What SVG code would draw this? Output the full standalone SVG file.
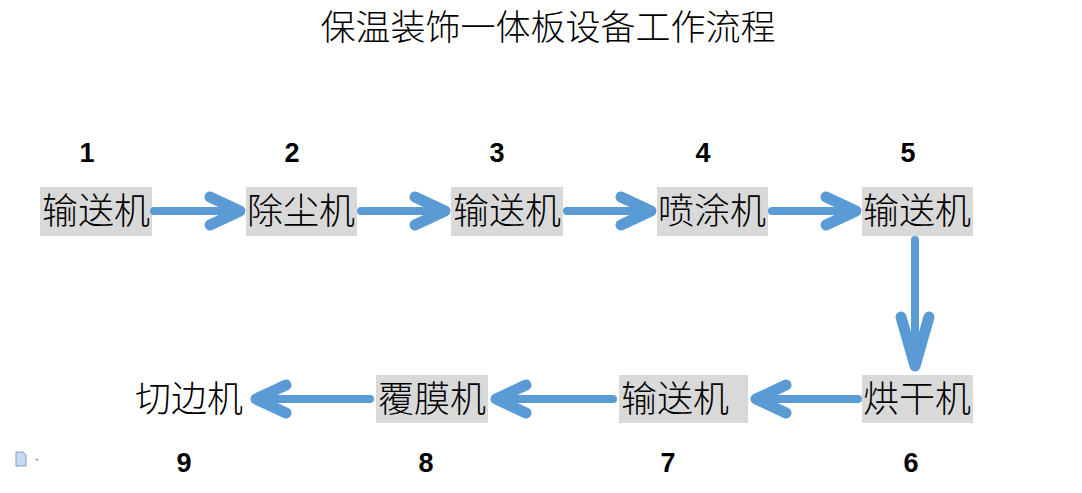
<svg xmlns="http://www.w3.org/2000/svg" width="1082" height="493" viewBox="0 0 1082 493">
<style>
.box{fill:#d9d9d9}
.lbl{font-family:"Noto Sans CJK SC",sans-serif;font-size:36px;fill:#000;text-anchor:middle;font-weight:300}
.num{font-family:"Liberation Sans",Arial,sans-serif;font-size:27px;font-weight:bold;text-anchor:middle;fill:#000}
.arr{fill:none;stroke:#5b9bd5;stroke-width:8;stroke-linecap:round;stroke-linejoin:round}
.hd{fill:none;stroke:#5b9bd5;stroke-width:11;stroke-linecap:round;stroke-linejoin:round}
</style>
<rect width="1082" height="493" fill="#fff"/>
<text x="548" y="40" style="font-family:'Noto Sans CJK SC',sans-serif;font-size:35px;font-weight:300;text-anchor:middle">保温装饰一体板设备工作流程</text>
<g id="n1"><rect class="box" x="40" y="187" width="112" height="49"/><text class="lbl" x="96" y="224">输送机</text><text class="num" x="87" y="162">1</text></g>
<g id="n2"><rect class="box" x="246" y="187" width="111" height="49"/><text class="lbl" x="301" y="224">除尘机</text><text class="num" x="292" y="162">2</text></g>
<g id="n3"><rect class="box" x="451" y="187" width="112" height="49"/><text class="lbl" x="507" y="224">输送机</text><text class="num" x="497" y="162">3</text></g>
<g id="n4"><rect class="box" x="657" y="187" width="111" height="49"/><text class="lbl" x="712" y="224">喷涂机</text><text class="num" x="703" y="162">4</text></g>
<g id="n5"><rect class="box" x="862" y="187" width="111" height="49"/><text class="lbl" x="917" y="224">输送机</text><text class="num" x="908" y="162">5</text></g>
<g id="n6"><rect class="box" x="862" y="375" width="111" height="48"/><text class="lbl" x="917" y="412">烘干机</text><text class="num" x="911" y="472">6</text></g>
<g id="n7"><rect class="box" x="619" y="375" width="129" height="48"/><text class="lbl" x="675" y="412">输送机</text><text class="num" x="668" y="472">7</text></g>
<g id="n8"><rect class="box" x="376" y="375" width="112" height="48"/><text class="lbl" x="432" y="412">覆膜机</text><text class="num" x="426" y="472">8</text></g>
<g id="n9"><text class="lbl" x="189" y="412">切边机</text><text class="num" x="184" y="472">9</text></g>
<g id="icon"><path d="M16 452h7l3 3v11h-10z" fill="#c5d9f1" stroke="#7f9fc6" stroke-width="1"/><path d="M35 459l2 2 2-2z" fill="#999"/></g>
<g id="connectors">
<path class="arr" d="M154 211H240"/><path class="hd" d="M210 197L240 211L210 225"/>
<path class="arr" d="M361 211H445"/><path class="hd" d="M415 197L445 211L415 225"/>
<path class="arr" d="M567 211H651"/><path class="hd" d="M621 197L651 211L621 225"/>
<path class="arr" d="M772 211H856"/><path class="hd" d="M826 197L856 211L826 225"/>
<path class="arr" d="M915 240V366"/><path class="hd" d="M901 317L915 366L929 317"/>
<path class="arr" d="M858 399H756"/><path class="hd" d="M786 385L756 399L786 413"/>
<path class="arr" d="M613 399H496"/><path class="hd" d="M526 385L496 399L526 413"/>
<path class="arr" d="M370 399H256"/><path class="hd" d="M286 385L256 399L286 413"/>
</g>
</svg>
